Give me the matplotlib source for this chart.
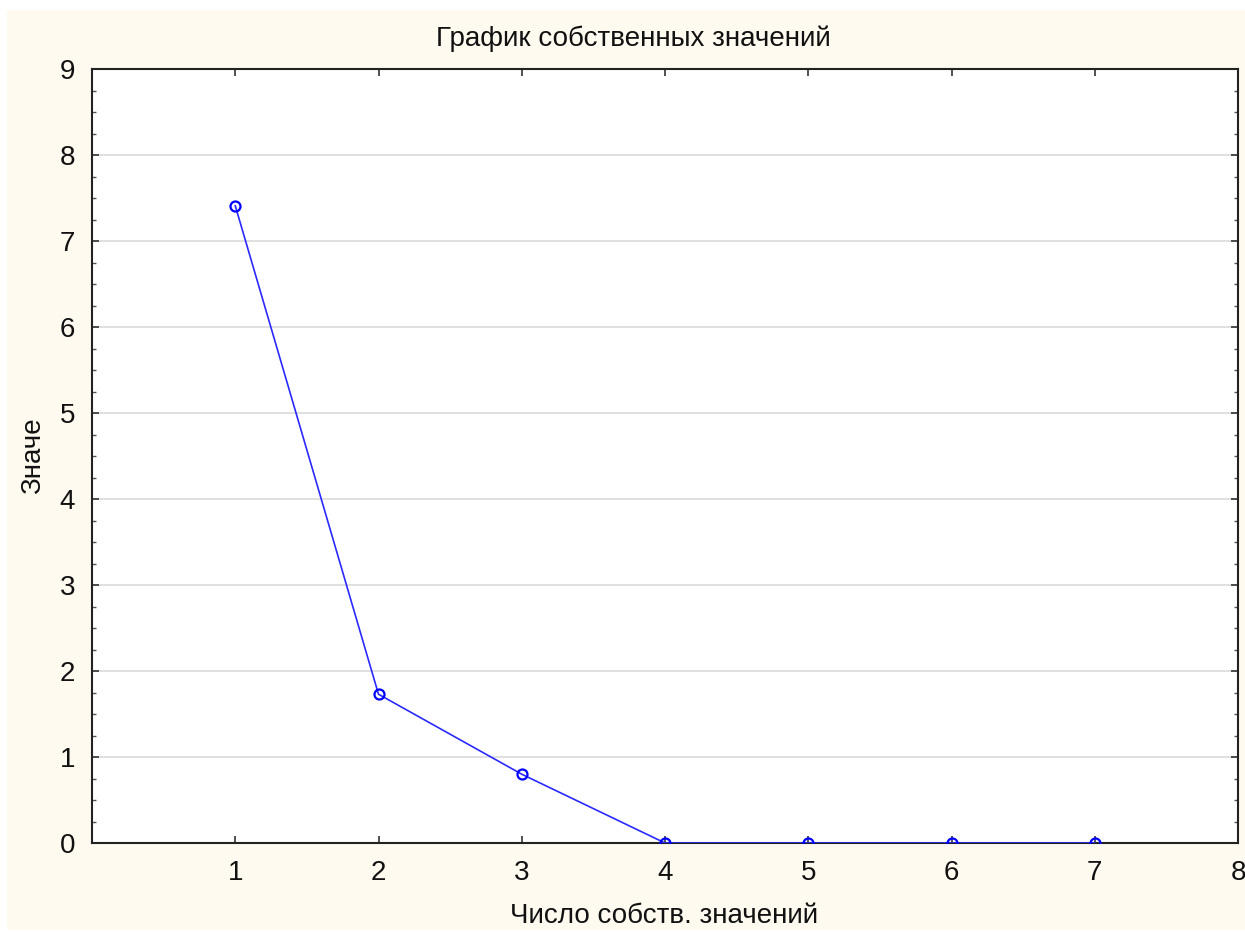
import matplotlib
matplotlib.use("Agg")
import matplotlib.pyplot as plt
from matplotlib.patches import Rectangle
from matplotlib.ticker import MultipleLocator

plt.rcParams['font.family'] = ['Liberation Sans', 'DejaVu Sans']

components = [1, 2, 3, 4, 5, 6, 7]
eigenvalues = [7.41, 1.73, 0.80, 0.0, 0.0, 0.0, 0.0]
x_ticks = [1, 2, 3, 4, 5, 6, 7, 8]
y_ticks = [0, 1, 2, 3, 4, 5, 6, 7, 8, 9]
title = "График собственных значений"
xlabel = "Число собств. значений"
ylabel = "Значе"

W, H = 1245, 932
fig = plt.figure(figsize=(W / 100, H / 100), dpi=100, facecolor='white')
fig.patches.append(Rectangle((7 / W, 2 / H), 1238 / W, 920 / H,
                             transform=fig.transFigure, facecolor='#FFFAF0',
                             edgecolor='none', zorder=-5))

L, R, T, B = 92, 1238, 69, 843
ax = fig.add_axes([L / W, (H - B) / H, (R - L) / W, (B - T) / H])
ax.set_zorder(2)
ax.set_facecolor('white')

ax.plot(components, eigenvalues, color='#2a2aff', lw=1.2, marker='o',
        markersize=7.2, markerfacecolor='none', markeredgewidth=1.6,
        markeredgecolor='#0000FF', zorder=3)

ax.set_xlim(0, 8)
ax.set_ylim(0, 9)
ax.set_xticks(x_ticks)
ax.set_yticks(y_ticks)
ax.yaxis.set_minor_locator(MultipleLocator(0.25))
ax.grid(axis='y', which='major', color='#DDDDDD', lw=1.3)
ax.set_axisbelow(True)

fs = 20
ax.tick_params(axis='both', which='major', direction='in', length=5, width=1.2,
               labelsize=fs, top=True, right=True, colors='#333333', labelcolor='#111111')
ax.tick_params(axis='x', pad=12)
ax.tick_params(axis='y', pad=12)
ax.tick_params(axis='y', which='minor', direction='in', length=3, width=1.0,
               left=True, right=True, colors='#555555')
for s in ax.spines.values():
    s.set_linewidth(1.5)
    s.set_color('#222222')

fig.text(633 / W, 1 - 39 / H, title, ha='center', va='center', fontsize=fs, color='#111111')
fig.text(664 / W, 1 - 916 / H, xlabel, ha='center', va='center', fontsize=fs, color='#111111')
fig.text(33 / W, 1 - 456 / H, ylabel, ha='center', va='center', rotation=90,
         fontsize=fs, color='#111111')

fig.savefig('out.png', dpi=100, facecolor='white')
